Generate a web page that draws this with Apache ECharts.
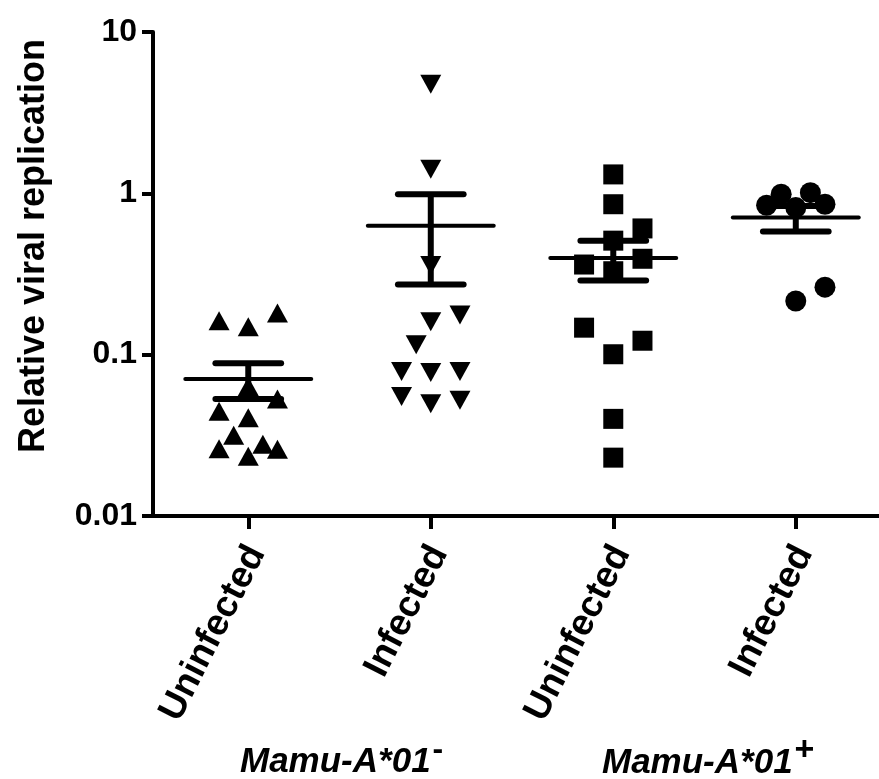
<!DOCTYPE html>
<html>
<head>
<meta charset="utf-8">
<script src="https://cdn.jsdelivr.net/npm/echarts@6/dist/echarts.min.js"></script>
<style>
  html, body { margin: 0; padding: 0; background: #fff; }
  #main { width: 879px; height: 779px; }
</style>
</head>
<body>
<div id="main"></div>
<script>
// categories along the x axis (position 1..4)
const categories = ["Uninfected", "Infected", "Uninfected", "Infected"];
const yTicks = [0.01, 0.1, 1, 10];

// individual animals: [x position, relative viral replication]
const negUninfected = [
  [0.84, 0.162], [1.00, 0.149], [1.16, 0.181], [1.00, 0.0635],
  [1.16, 0.0531], [0.84, 0.0446], [1.00, 0.0406], [0.92, 0.0317],
  [0.84, 0.0261], [1.00, 0.0235], [1.08, 0.0278], [1.16, 0.0259],
];
const negInfected = [
  [2.00, 4.74], [2.00, 1.41], [2.00, 0.357], [2.00, 0.160],
  [2.16, 0.176], [1.92, 0.115], [1.84, 0.0786], [2.00, 0.0775],
  [2.16, 0.0786], [1.84, 0.0551], [2.00, 0.0497], [2.16, 0.0521],
];
const posUninfected = [
  [3.00, 1.31], [3.00, 0.856], [3.16, 0.606], [3.00, 0.509],
  [2.84, 0.362], [3.16, 0.393], [3.00, 0.329], [2.84, 0.147],
  [3.16, 0.122], [3.00, 0.1006], [3.00, 0.040], [3.00, 0.023],
];
const posInfected = [
  [3.84, 0.844], [3.92, 0.987], [4.00, 0.816], [4.08, 1.01],
  [4.16, 0.856], [4.00, 0.215], [4.16, 0.262],
];

// mean +/- SEM per group
const groupPos = [1, 2, 3, 4];
const means = [0.0706, 0.63, 0.398, 0.708];
const semLow = [0.0531, 0.2726, 0.288, 0.581];
const semHigh = [0.0885, 0.987, 0.509, 0.835];

const FONT = "Liberation Sans, Arial, sans-serif";

var chartDom = document.getElementById("main");
var myChart = echarts.init(chartDom, null, { renderer: "canvas" });

var errData = groupPos.map((x, i) => [x, means[i], semLow[i], semHigh[i]]);
// rotated labels sit a little right of their tick
var labelPos = groupPos.map((x) => x + 0.045);

function renderErr(params, api) {
  var x = api.value(0);
  var m = api.coord([x, api.value(1)]);
  var lo = api.coord([x, api.value(2)]);
  var hi = api.coord([x, api.value(3)]);
  var meanL = api.coord([x - 0.345, api.value(1)]);
  var meanR = api.coord([x + 0.345, api.value(1)]);
  var capHalf = api.size([0.18, 0])[0];
  var capStyle = { stroke: "#000", lineWidth: 6, lineCap: "round" };
  return {
    type: "group",
    children: [
      { type: "line", shape: { x1: lo[0], y1: lo[1], x2: hi[0], y2: hi[1] },
        style: { stroke: "#000", lineWidth: 6 } },
      { type: "line", shape: { x1: hi[0] - capHalf, y1: hi[1], x2: hi[0] + capHalf, y2: hi[1] },
        style: capStyle },
      { type: "line", shape: { x1: lo[0] - capHalf, y1: lo[1], x2: lo[0] + capHalf, y2: lo[1] },
        style: capStyle },
      { type: "line", shape: { x1: meanL[0], y1: m[1], x2: meanR[0], y2: m[1] },
        style: { stroke: "#000", lineWidth: 4, lineCap: "round" } },
    ],
  };
}

function dots(data, symbol, size, rotate) {
  return {
    type: "scatter",
    data: data,
    symbol: symbol,
    symbolSize: size,
    symbolRotate: rotate || 0,
    itemStyle: { color: "#000", opacity: 1 },
    z: 3,
    silent: true,
  };
}

var option = {
  animation: false,
  backgroundColor: "#fff",
  grid: { left: 153, right: 0, top: 32, bottom: 263, containLabel: false },
  xAxis: {
    type: "value",
    min: 0.478,
    max: 4.456,
    splitLine: { show: false },
    axisLine: { show: true, onZero: false, lineStyle: { color: "#000", width: 4 } },
    axisTick: { show: true, customValues: groupPos, length: 13, lineStyle: { color: "#000", width: 4 } },
    axisLabel: {
      customValues: labelPos,
      formatter: (v) => categories[Math.round(v) - 1] || "",
      rotate: 63,
      margin: 32,
      color: "#000",
      fontFamily: FONT,
      fontWeight: "bold",
      fontSize: 37,
    },
  },
  yAxis: {
    type: "log",
    logBase: 10,
    min: 0.01,
    max: 10,
    splitLine: { show: false },
    axisLine: { show: true, lineStyle: { color: "#000", width: 4 } },
    axisTick: { show: true, length: 11, lineStyle: { color: "#000", width: 4 } },
    axisLabel: {
      color: "#000",
      fontFamily: FONT,
      fontWeight: "bold",
      fontSize: 32,
      margin: 16,
      formatter: (v) => String(yTicks.find((t) => Math.abs(t - v) / t < 1e-6) ?? v),
    },
  },
  series: [
    {
      type: "custom",
      data: errData,
      renderItem: renderErr,
      z: 4,
      silent: true,
    },
    dots(negUninfected, "triangle", [21, 19]),
    dots(negInfected, "triangle", [21, 19], 180),
    dots(posUninfected, "rect", 20),
    dots(posInfected, "circle", 21),
  ],
  graphic: [
    {
      type: "text",
      x: 34,
      y: 246,
      rotation: Math.PI / 2,
      style: {
        text: "Relative viral replication",
        font: "bold 36px " + FONT,
        fill: "#000",
        align: "center",
        verticalAlign: "middle",
      },
    },
    {
      type: "text",
      left: 240,
      top: 734,
      style: {
        text: "{a|Mamu-A*01}{s|-}",
        rich: {
          a: { font: "italic bold 35px " + FONT, fill: "#000" },
          s: { font: "bold 32px " + FONT, fill: "#000", padding: [0, 0, 24, 2] },
        },
      },
    },
    {
      type: "text",
      left: 602,
      top: 734,
      style: {
        text: "{a|Mamu-A*01}{s|+}",
        rich: {
          a: { font: "italic bold 35px " + FONT, fill: "#000" },
          s: { font: "bold 34px " + FONT, fill: "#000", padding: [0, 0, 24, 2] },
        },
      },
    },
  ],
};

option && myChart.setOption(option);
</script>
</body>
</html>
